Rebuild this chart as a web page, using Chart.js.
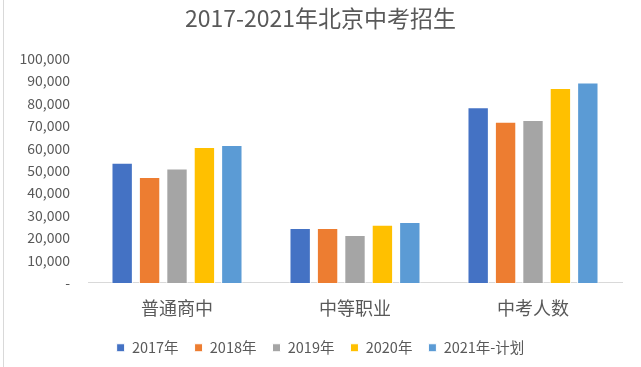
<!DOCTYPE html>
<html>
<head>
<meta charset="utf-8">
<script src="https://cdn.jsdelivr.net/npm/chart.js@4"></script>
<style>
  html, body { margin: 0; padding: 0; background: #fff; }
  #box { width: 641px; height: 367px; position: relative; }
  #edge { position: absolute; left: 3px; top: 0; width: 1px; height: 367px; background: #d9d9d9; }
</style>
</head>
<body>
<div id="box"><div id="edge"></div><canvas id="myChart"></canvas></div>
<script>
var categories = ["普通商中", "中等职业", "中考人数"];
var seriesNames = ["2017年", "2018年", "2019年", "2020年", "2021年-计划"];
var v2017 = [53600, 24500, 78300];
var v2018 = [47200, 24500, 71800];
var v2019 = [51000, 21400, 72600];
var v2020 = [60600, 25900, 86900];
var v2021 = [61500, 27200, 89300];
var yTicks = [0, 10000, 20000, 30000, 40000, 50000, 60000, 70000, 80000, 90000, 100000];

var barColors = ["#4472C4", "#ED7D31", "#A5A5A5", "#FFC000", "#5B9BD5"];
var allValues = [v2017, v2018, v2019, v2020, v2021];
var textColor = "#595959";
var fontFam = "'Noto Sans CJK SC', 'Noto Sans', sans-serif";

function chart() {
  var sets = seriesNames.map(function (name, i) {
    return {
      label: name,
      data: allValues[i],
      backgroundColor: barColors[i],
      borderColor: "#ffffff",
      borderWidth: 1,
      barPercentage: 0.78,
      categoryPercentage: 0.77
    };
  });

  new Chart("myChart", {
    type: "bar",
    data: { labels: categories, datasets: sets },
    options: {
      responsive: true,
      maintainAspectRatio: false,
      animation: false,
      layout: { padding: { left: 19, right: 19, top: 4, bottom: 2 } },
      plugins: {
        title: {
          display: true,
          text: "2017-2021年北京中考招生",
          color: textColor,
          font: { family: fontFam, size: 23, weight: "normal" },
          padding: { top: 0, bottom: 27 }
        },
        legend: {
          position: "bottom",
          labels: {
            color: textColor,
            font: { family: fontFam, size: 14.5 },
            boxWidth: 8,
            boxHeight: 8,
            padding: 16
          }
        },
        tooltip: { enabled: false }
      },
      scales: {
        x: {
          grid: { display: false },
          border: { display: true, color: "#d9d9d9", width: 1 },
          ticks: { color: textColor, font: { family: fontFam, size: 18 }, padding: 6 }
        },
        y: {
          min: 0,
          max: 100000,
          afterBuildTicks: function (scale) {
            scale.ticks = yTicks.map(function (v) { return { value: v }; });
          },
          afterFit: function (scale) { scale.width = 69; },
          grid: { display: false },
          border: { display: false },
          ticks: {
            color: textColor,
            font: { family: fontFam, size: 14 },
            padding: 10,
            callback: function (v) {
              return v === 0 ? "-" : v.toLocaleString("en-US");
            }
          }
        }
      }
    }
  });
}

chart();
</script>
</body>
</html>
